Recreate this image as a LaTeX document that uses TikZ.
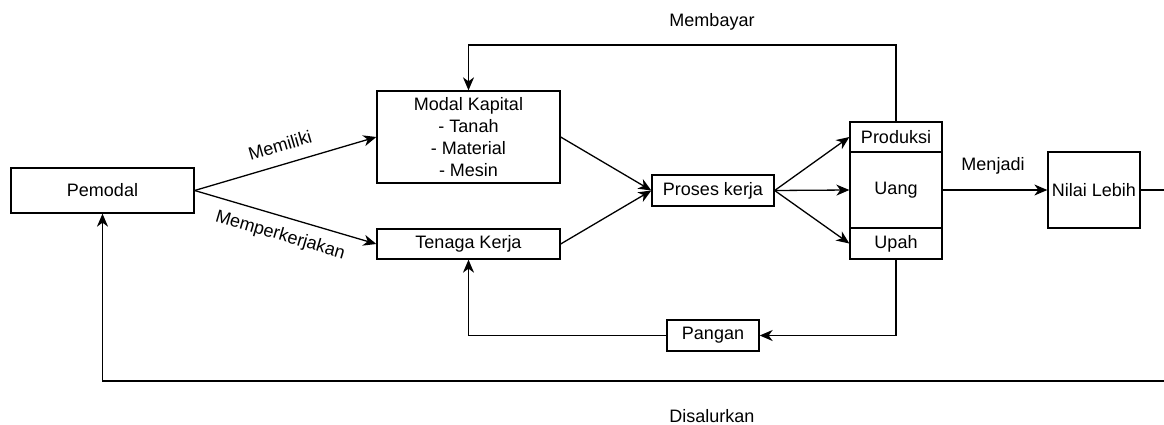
\documentclass[tikz,border=0pt]{standalone}
\usepackage{fontspec}
\setmainfont{Liberation Sans}
\usetikzlibrary{arrows.meta}
\begin{document}
\begin{tikzpicture}[x=1pt,y=-1pt,
  every node/.style={font=\fontsize{18}{22}\selectfont},
  box/.style={draw, line width=1.3pt, inner sep=0pt, align=center},
  lbl/.style={inner sep=0pt},
  conn/.style={line width=1.3pt},
  arr/.style={conn, -{Stealth[length=13pt,width=11pt,inset=4pt]}}]
\useasboundingbox (0,0) rectangle (1164,425);
\node[box, minimum width=183pt, minimum height=45pt] (pemodal) at (102.5,190.5) {Pemodal};
\node[box, minimum width=183pt, minimum height=92pt] (modal) at (468.5,137) {Modal Kapital\\- Tanah\\- Material\\- Mesin};
\node[box, minimum width=183pt, minimum height=30pt] (tenaga) at (468.5,244) {Tenaga Kerja};
\node[box, minimum width=122pt, minimum height=31pt] (proses) at (713,190.5) {Proses kerja};
\node[box, minimum width=92pt, minimum height=30pt] (produksi) at (896,137) {Produksi};
\node[box, minimum width=92pt, minimum height=76pt] (uang) at (896,190) {Uang};
\node[box, minimum width=92pt, minimum height=31pt] (upah) at (896,243.5) {Upah};
\node[box, minimum width=92pt, minimum height=76pt] (nilai) at (1094,190) {Nilai Lebih};
\node[box, minimum width=92pt, minimum height=31pt] (pangan) at (713,335.5) {Pangan};

\coordinate (top) at (896,45);
\coordinate (rc1) at (1175,190);
\coordinate (rc2) at (1175,381);
\coordinate (lc) at (102.5,381);

\draw[arr] (pemodal.east) -- node[lbl, midway, sloped, above=12pt] {Memiliki} (modal.west);
\draw[arr] (pemodal.east) -- node[lbl, midway, sloped, below=10pt] {Memperkerjakan} (tenaga.west);
\draw[arr] (modal.east) -- (proses.west);
\draw[arr] (tenaga.east) -- (proses.west);
\draw[arr] (proses.east) -- (produksi.west);
\draw[arr] (proses.east) -- (uang.west);
\draw[arr] (proses.east) -- (upah.west);
\draw[arr] (uang.east) -- (nilai.west);
\draw[arr] (produksi.north) -- (top) -| (modal.north);
\draw[arr] (upah.south) |- (pangan.east);
\draw[arr] (pangan.west) -| (tenaga.south);
\draw[arr] (nilai.east) -- (rc1) -- (rc2) -- (lc) -- (pemodal.south);

\node[lbl] (membayar) at (712,21.5) {Membayar};
\node[lbl] (menjadi) at (993,166) {Menjadi};
\node[lbl] (disalurkan) at (712,416) {Disalurkan};
\end{tikzpicture}
\end{document}
